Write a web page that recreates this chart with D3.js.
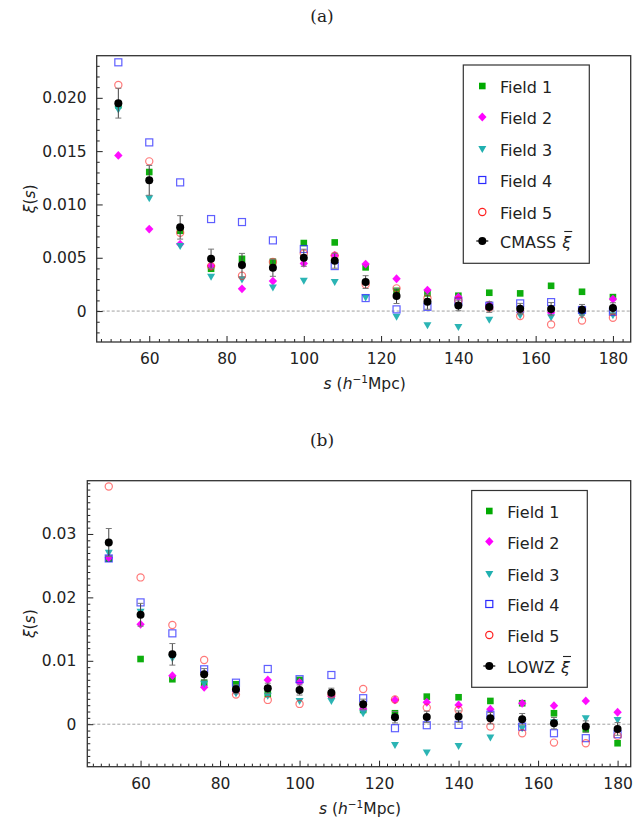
<!DOCTYPE html>
<html><head><meta charset="utf-8">
<script src="https://cdn.jsdelivr.net/npm/d3@7"></script>
<style>body{margin:0;background:#fff}</style>
</head><body>
<svg id="c" width="644" height="823" xmlns="http://www.w3.org/2000/svg"></svg>
<script>
// ---------- DATA ----------
const sValues = [52,60,68,76,84,92,100,108,116,124,132,140,148,156,164,172,180];
const fieldNames = ["Field 1","Field 2","Field 3","Field 4","Field 5"];
const xTicks = [60,80,100,120,140,160,180];

// Panel (a) CMASS
const cmassField1 = [0.0193,0.01304,0.00753,0.00397,0.0049,0.00462,0.00638,0.00644,0.0041,0.0019,0.00166,0.00144,0.00172,0.00166,0.00237,0.00181,0.00131];
const cmassField2 = [0.0146,0.00769,0.00628,0.00425,0.00209,0.00281,0.00447,0.00522,0.00441,0.00303,0.00197,0.00131,0.0006,-0.0001,-0.00016,0.0000,0.00113];
const cmassField3 = [0.0189,0.01057,0.0061,0.00322,0.00297,0.00222,0.00284,0.00272,0.00128,-0.00053,-0.00134,-0.0015,-0.00082,-0.0004,-0.00059,-0.00038,-0.0004];
const cmassField4 = [0.02333,0.01582,0.01207,0.00863,0.00835,0.00663,0.00582,0.00422,0.00122,0.00016,0.0004,0.00091,0.0005,0.00072,0.00084,0.0001,-0.00006];
const cmassField5 = [0.0212,0.01404,0.00734,0.0042,0.00331,0.0046,0.0054,0.0052,0.0025,0.00213,0.0012,0.001,0.0003,-0.00047,-0.00125,-0.00088,-0.00063];
const cmassMean   = [0.0195,0.01226,0.00785,0.00491,0.00431,0.00406,0.005,0.00472,0.00272,0.00141,0.00087,0.00053,0.00038,0.00022,0.0002,0.00012,0.00028];
const cmassErr    = [0.0014,0.0014,0.0011,0.0009,0.0011,0.0008,0.0008,0.0007,0.0006,0.0007,0.0007,0.0005,0.0005,0.0005,0.0006,0.0005,0.0005];
const cmassYTicks = [0,0.005,0.010,0.015,0.020];
const cmassYLabels = ["0","0.005","0.010","0.015","0.020"];

// Panel (b) LOWZ
const lowzField1 = [0.0261,0.01028,0.00709,0.00655,0.0063,0.00477,0.00698,0.0046,0.00225,0.00173,0.00435,0.00425,0.00367,0.00331,0.00173,-0.00079,-0.003];
const lowzField2 = [0.02624,0.01575,0.00765,0.00583,0.0052,0.00698,0.00661,0.0044,0.0024,0.00383,0.00346,0.00304,0.00236,0.0033,0.00293,0.00367,0.00189];
const lowzField3 = [0.02702,0.01773,0.01039,0.0064,0.00488,0.0045,0.00367,0.00367,0.00173,-0.00326,-0.00447,-0.00342,-0.00211,-0.00063,0.0003,0.00094,0.00068];
const lowzField4 = [0.02614,0.01921,0.01433,0.00866,0.00655,0.00871,0.0071,0.00776,0.0041,-0.00063,-0.00016,-0.00011,0.0015,-0.0004,-0.00142,-0.0022,-0.00158];
const lowzField5 = [0.03748,0.02315,0.01564,0.01013,0.00467,0.00383,0.0032,0.0047,0.00556,0.0039,0.00262,0.00225,-0.00037,-0.00142,-0.0029,-0.003,-0.00184];
const lowzMean   = [0.02866,0.01726,0.01102,0.00787,0.00551,0.00567,0.0054,0.00498,0.00315,0.0011,0.00115,0.0012,0.00094,0.00079,0.00016,-0.00037,-0.00074];
const lowzErr    = [0.0022,0.0018,0.0017,0.0009,0.0007,0.0008,0.0008,0.0007,0.0008,0.0009,0.0009,0.0009,0.0009,0.0009,0.0009,0.0009,0.001];
const lowzYTicks = [0,0.01,0.02,0.03];
const lowzYLabels = ["0","0.01","0.02","0.03"];

// ---------- STYLE ----------
const FONT = "DejaVu Sans";
const fieldStyles = [
  {type:"square", fill:"#00aa00", stroke:"none", opacity:0.95},
  {type:"diamond", fill:"#ff00ff", stroke:"none", opacity:0.95},
  {type:"tri", fill:"#20b0b0", stroke:"none", opacity:0.95},
  {type:"osquare", fill:"none", stroke:"#2a2aff", opacity:0.75},
  {type:"ocircle", fill:"none", stroke:"#ff2020", opacity:0.6}
];

const svg = d3.select("#c");

function marker(g, st, cx, cy, legend) {
  let el;
  if (st.type === "square") {
    el = g.append("rect").attr("x", cx-3.3).attr("y", cy-3.3).attr("width", 6.6).attr("height", 6.6);
  } else if (st.type === "diamond") {
    el = g.append("path").attr("d", `M${cx},${cy-4.4}L${cx+4.2},${cy}L${cx},${cy+4.4}L${cx-4.2},${cy}Z`);
  } else if (st.type === "tri") {
    el = g.append("path").attr("d", `M${cx-4},${cy-3}L${cx+4},${cy-3}L${cx},${cy+4}Z`);
  } else if (st.type === "osquare") {
    el = g.append("rect").attr("x", cx-3.5).attr("y", cy-3.5).attr("width", 7).attr("height", 7).attr("stroke-width", 1.2);
  } else {
    el = g.append("circle").attr("cx", cx).attr("cy", cy).attr("r", 3.6).attr("stroke-width", 1.2);
  }
  el.attr("fill", st.fill).attr("stroke", st.stroke).attr("opacity", legend ? 1 : st.opacity);
}

function drawPanel(cfg) {
  const {left, right, top, bottom, xDomain, yDomain} = cfg;
  const x = d3.scaleLinear().domain(xDomain).range([left, right]);
  const y = d3.scaleLinear().domain(yDomain).range([bottom, top]);
  const g = svg.append("g");

  // title
  g.append("text").attr("x", 322).attr("y", cfg.titleY).attr("text-anchor","middle")
    .attr("font-family","DejaVu Serif, Liberation Serif, serif").attr("font-size",17).attr("fill","#222").text(cfg.title);

  // zero line
  g.append("line").attr("x1", left).attr("x2", right).attr("y1", y(0)).attr("y2", y(0))
    .attr("stroke","#888").attr("stroke-width",0.8).attr("stroke-dasharray","3,2");

  // axes: minor
  const xMinor = d3.range(Math.ceil(xDomain[0]/cfg.xMinorStep)*cfg.xMinorStep, xDomain[1], cfg.xMinorStep).filter(v => v % 20 !== 0);
  const yMinorVals = d3.range(Math.ceil(yDomain[0]/0.001), Math.floor(yDomain[1]/0.001)+1).map(k => k*0.001)
      .filter(v => !cfg.yTicks.some(t => Math.abs(t - v) < 1e-9));
  g.append("g").attr("transform",`translate(0,${bottom})`)
    .call(d3.axisBottom(x).tickValues(xMinor).tickSizeInner(-3).tickSizeOuter(0).tickFormat(""))
    .call(a => a.select(".domain").remove()).selectAll("line").attr("stroke","#222");
  g.append("g").attr("transform",`translate(${left},0)`)
    .call(d3.axisLeft(y).tickValues(yMinorVals).tickSizeInner(-3).tickSizeOuter(0).tickFormat(""))
    .call(a => a.select(".domain").remove()).selectAll("line").attr("stroke","#222");
  // major
  const xa = g.append("g").attr("transform",`translate(0,${bottom})`)
    .call(d3.axisBottom(x).tickValues(xTicks).tickSizeInner(-6).tickSizeOuter(0).tickPadding(11).tickFormat(d3.format("d")));
  xa.select(".domain").remove();
  xa.selectAll("line").attr("stroke","#222");
  xa.selectAll("text").attr("font-family",FONT).attr("font-size",15.5).attr("fill","#222");
  const ya = g.append("g").attr("transform",`translate(${left},0)`)
    .call(d3.axisLeft(y).tickValues(cfg.yTicks).tickSizeInner(-6).tickSizeOuter(0).tickPadding(cfg.yPad)
      .tickFormat((d,i) => cfg.yLabels[i]));
  ya.select(".domain").remove();
  ya.selectAll("line").attr("stroke","#222");
  ya.selectAll("text").attr("font-family",FONT).attr("font-size",15.5).attr("fill","#222");

  // frame
  g.append("rect").attr("x",left).attr("y",top).attr("width",right-left).attr("height",bottom-top)
    .attr("fill","none").attr("stroke","#333").attr("stroke-width",1.3);

  // axis labels
  const xl = g.append("text").attr("x", (left+right)/2 + 1).attr("y", cfg.xLabelY).attr("text-anchor","middle")
    .attr("font-family",FONT).attr("font-size",15.5).attr("fill","#222");
  xl.append("tspan").attr("font-style","italic").text("s");
  xl.append("tspan").text(" (");
  xl.append("tspan").attr("font-style","italic").text("h");
  xl.append("tspan").attr("font-size",10.5).attr("dy",-6).text("−1");
  xl.append("tspan").attr("dy",6).text("Mpc)");
  const yl = g.append("text").attr("transform",`translate(${cfg.yLabelX},${(top+bottom)/2}) rotate(-90)`)
    .attr("text-anchor","middle").attr("font-family",FONT).attr("font-size",15.5).attr("fill","#222");
  yl.append("tspan").attr("font-style","italic").text("ξ");
  yl.append("tspan").text("(");
  yl.append("tspan").attr("font-style","italic").text("s");
  yl.append("tspan").text(")");

  // fields
  cfg.fields.forEach((arr, fi) => {
    const fg = g.append("g");
    arr.forEach((v, i) => marker(fg, fieldStyles[fi], x(sValues[i]), y(v), false));
  });
  // mean with error bars
  const mg = g.append("g");
  cfg.mean.forEach((v, i) => {
    const cx = x(sValues[i]), y1 = y(v + cfg.err[i]), y0 = y(v - cfg.err[i]);
    mg.append("line").attr("x1",cx).attr("x2",cx).attr("y1",y1).attr("y2",y0).attr("stroke","#444").attr("stroke-width",1);
    mg.append("line").attr("x1",cx-3).attr("x2",cx+3).attr("y1",y1).attr("y2",y1).attr("stroke","#777").attr("stroke-width",1);
    mg.append("line").attr("x1",cx-3).attr("x2",cx+3).attr("y1",y0).attr("y2",y0).attr("stroke","#777").attr("stroke-width",1);
    mg.append("circle").attr("cx",cx).attr("cy",y(v)).attr("r",4).attr("fill","#000");
  });

  // legend
  const L = cfg.legend;
  g.append("rect").attr("x",L.x0).attr("y",L.y0).attr("width",L.x1-L.x0).attr("height",L.y1-L.y0)
    .attr("fill","#fff").attr("stroke","#333").attr("stroke-width",1.2);
  const names = fieldNames.concat([cfg.meanName]);
  names.forEach((nm, i) => {
    const ry = L.rows[i];
    if (i < 5) marker(g, fieldStyles[i], L.mx, ry - 7, true);
    else {
      g.append("line").attr("x1",L.mx-6).attr("x2",L.mx+6).attr("y1",ry-7).attr("y2",ry-7).attr("stroke","#000").attr("stroke-width",1.2);
      g.append("circle").attr("cx",L.mx).attr("cy",ry-7).attr("r",4).attr("fill","#000");
    }
    const t = g.append("text").attr("x",L.tx).attr("y",ry).attr("font-family",FONT).attr("font-size",16).attr("fill","#222").text(nm);
    if (i === 5) {
      const w = t.node().getComputedTextLength();
      const xi = g.append("text").attr("x",L.tx + w + 6).attr("y",ry).attr("font-family",FONT)
        .attr("font-style","italic").attr("font-size",16).attr("fill","#222").text("ξ");
      const bb = xi.node().getBBox();
      g.append("line").attr("x1",bb.x+3).attr("x2",bb.x+bb.width).attr("y1",ry-16.5).attr("y2",ry-16.5)
        .attr("stroke","#222").attr("stroke-width",1.1);
    }
  });
}

drawPanel({
  title:"(a)", titleY:22,
  left:96.7, right:630.7, top:55.7, bottom:342,
  xDomain:[46.4,184.6], yDomain:[-0.0029,0.02395],
  xMinorStep:2.5, yTicks:cmassYTicks, yLabels:cmassYLabels, yPad:10,
  xLabelY:389, yLabelX:35,
  fields:[cmassField1,cmassField2,cmassField3,cmassField4,cmassField5],
  mean:cmassMean, err:cmassErr, meanName:"CMASS",
  legend:{x0:463.3,x1:589.3,y0:65,y1:263.3,mx:482.3,tx:500,rows:[93,124,156,187,219,248]}
});
drawPanel({
  title:"(b)", titleY:446,
  left:87.3, right:630.7, top:480.7, bottom:766.7,
  xDomain:[46.6,183.3], yDomain:[-0.0067,0.0384],
  xMinorStep:2, yTicks:lowzYTicks, yLabels:lowzYLabels, yPad:11,
  xLabelY:814, yLabelX:35,
  fields:[lowzField1,lowzField2,lowzField3,lowzField4,lowzField5],
  mean:lowzMean, err:lowzErr, meanName:"LOWZ",
  legend:{x0:471.7,x1:587.3,y0:490.5,y1:687.3,mx:489.3,tx:507.3,rows:[518,548.5,581,611,642,673]}
});
</script>
</body></html>
